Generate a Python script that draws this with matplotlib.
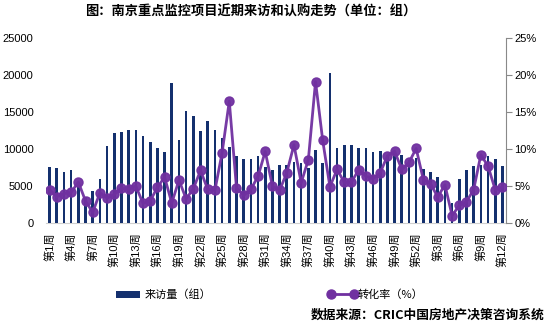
import matplotlib
matplotlib.use("Agg")
import matplotlib.pyplot as plt
from matplotlib.patches import Patch
from matplotlib.lines import Line2D
import numpy as np

plt.rcParams['font.family'] = ['Liberation Sans', 'Noto Sans CJK SC', 'DejaVu Sans']

weeks = list(range(1, 53)) + list(range(1, 13))
labels = [f"第{w}周" for w in weeks]

visits = [7550, 7370, 6830, 7100, 5600, 3500, 4300, 5900, 10340, 12100,
          12230, 12550, 12550, 11700, 11000, 10200, 9530, 18900, 11200, 15200,
          14500, 12400, 13850, 12550, 11500, 10300, 9000, 8700, 8600, 9100,
          7550, 7100, 7800, 7900, 8300, 8050, 7400, 9800, 8050, 20300,
          10070, 10500, 10500, 10200, 10070, 9550, 9700, 9200, 9500, 9150,
          8500, 8750, 7280, 6850, 6250, 5000, 2720, 5940, 7130, 7680,
          7800, 9020, 8600, 7650]

rate = [4.5, 3.55, 3.96, 4.14, 5.53, 2.97, 1.44, 4.09, 3.37, 3.87,
        4.68, 4.54, 4.99, 2.65, 3.01, 4.81, 6.2, 2.7, 5.8, 3.26,
        4.63, 7.1, 4.54, 4.41, 9.49, 16.46, 4.77, 3.73, 4.54, 6.3,
        9.67, 4.99, 4.41, 6.79, 10.57, 5.44, 8.54, 19.1, 11.15, 4.9,
        7.24, 5.49, 5.53, 7.19, 6.32, 5.98, 6.79, 9.08, 9.71, 7.24,
        8.18, 10.07, 5.85, 5.31, 3.51, 5.17, 0.99, 2.38, 2.88, 4.5,
        9.22, 7.69, 4.5, 4.86]

bar_color = '#14306e'
line_color = '#7030a0'

fig = plt.figure(figsize=(5.53, 3.29), dpi=100)
ax = fig.add_axes([46/553, 1-223/329, 460/553, 185/329])
x = np.arange(len(visits))
ax.bar(x, visits, width=0.36, color=bar_color, zorder=2)
ax.set_xlim(-0.5, len(visits) - 0.5)
ax.set_ylim(0, 25000)
ax.set_yticks(range(0, 25001, 5000))
ax.tick_params(axis='y', length=0, pad=9, labelsize=8, colors='black')
ax.set_xticks(x[::3])
ax.set_xticklabels(labels[::3], rotation=90, fontsize=8)
ax.tick_params(axis='x', length=0, pad=7)
for s in ['top', 'left', 'right']:
    ax.spines[s].set_visible(False)
ax.spines['bottom'].set_color('#d0d0d0')
ax.spines['bottom'].set_zorder(1)

ax2 = ax.twinx()
ax2.plot(x, rate, color=line_color, lw=2.0, marker='o', markersize=6.5,
         markerfacecolor=line_color, markeredgecolor=line_color, zorder=3, alpha=0.95)
ax2.set_ylim(0, 25)
ax2.set_yticks(range(0, 26, 5))
ax2.set_yticklabels([f"{v}%" for v in range(0, 26, 5)])
ax2.tick_params(axis='y', length=4, width=0.8, color='#898989', pad=2, labelsize=8)
for s in ['top', 'left', 'bottom']:
    ax2.spines[s].set_visible(False)
ax2.spines['right'].set_color('#898989')

fig.text(0.453, 1-12/329, "图：南京重点监控项目近期来访和认购走势（单位：组）",
         ha='center', va='center', fontsize=9.5, fontweight='bold',
         family=['Noto Sans CJK SC'])

h1 = Patch(facecolor=bar_color, edgecolor='none')
fig.legend(handles=[h1], labels=["来访量（组）"], loc='center left',
           bbox_to_anchor=(106/553, 1-295/329), frameon=False,
           handlelength=2.2, handleheight=0.55, handletextpad=0.4,
           prop={'family': ['Noto Sans CJK SC'], 'size': 8})
h2 = Line2D([0], [0], color=line_color, lw=2.0, marker='o', markersize=6.5)
fig.legend(handles=[h2], labels=["转化率（%）"], loc='center left',
           bbox_to_anchor=(318/553, 1-295/329), frameon=False,
           handlelength=2.6, handletextpad=0.1, numpoints=2,
           prop={'family': ['Noto Sans CJK SC'], 'size': 8})

fig.text(545/553, 1-315/329, "数据来源：CRIC中国房地产决策咨询系统",
         ha='right', va='center', fontsize=9.2, fontweight='bold',
         family=['Noto Sans CJK SC'])

fig.savefig("out.png", dpi=100)
